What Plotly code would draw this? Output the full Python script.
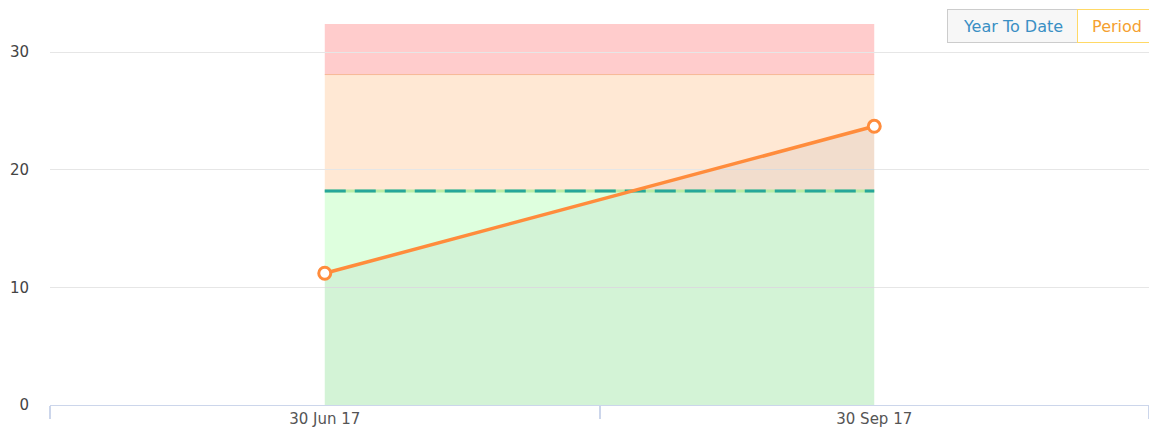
import plotly.graph_objects as go

categories = ["30 Jun 17", "30 Sep 17"]
values = [11.2, 23.7]
target = 18.2
band_edges = [0, 18.2, 28.1, 32.4]
band_colors = ["rgba(0,255,0,0.13)", "rgba(255,140,40,0.2)", "rgba(255,0,0,0.2)"]
y_ticks = [0, 10, 20, 30]
buttons = ["Year To Date", "Period"]

xs = list(range(len(categories)))
x_lo, x_hi = xs[0], xs[-1]

fig = go.Figure()

shapes = []
for i, col in enumerate(band_colors):
    shapes.append(dict(type="rect", xref="x", yref="y", x0=x_lo, x1=x_hi,
                       y0=band_edges[i], y1=band_edges[i + 1],
                       fillcolor=col, line=dict(width=0), layer="below"))
shapes.append(dict(type="line", xref="x", yref="y", x0=x_lo, x1=x_hi,
                   y0=band_edges[2], y1=band_edges[2],
                   line=dict(color="rgba(240,160,110,0.6)", width=1), layer="below"))

# area under line
fig.add_trace(go.Scatter(x=xs, y=values, mode="none", fill="tozeroy",
                         fillcolor="rgba(70,90,110,0.07)", hoverinfo="skip",
                         showlegend=False))
# target line: light underline + teal dashes
fig.add_trace(go.Scatter(x=[x_lo, x_hi], y=[target, target], mode="lines",
                         line=dict(color="rgba(180,235,160,0.9)", width=3),
                         hoverinfo="skip", showlegend=False))
fig.add_trace(go.Scatter(x=[x_lo, x_hi], y=[target, target], mode="lines",
                         line=dict(color="#26a69a", width=3, dash="21px,9px"),
                         showlegend=False))
# actual series
fig.add_trace(go.Scatter(x=xs, y=values, mode="lines+markers",
                         line=dict(color="#ff8c3c", width=3.5),
                         marker=dict(symbol="circle", size=12, color="white",
                                     line=dict(color="#ff8c3c", width=3)),
                         showlegend=False))

fig.update_layout(
    width=1149, height=434,
    margin=dict(l=50, r=0, t=24, b=29),
    paper_bgcolor="white", plot_bgcolor="white",
    font=dict(family="DejaVu Sans", size=15, color="#555555"),
    shapes=shapes,
    xaxis=dict(range=[x_lo - 0.5, x_hi + 0.5], tickmode="array", tickvals=xs,
               ticktext=categories, ticks="", showgrid=False, zeroline=False,
               showline=True, linecolor="#ccd6eb", linewidth=1,
               tickfont=dict(size=15, color="#555555"),
               minor=dict(tickmode="array",
                          tickvals=[x_lo - 0.5 + k for k in range(len(categories) + 1)],
                          ticks="outside", ticklen=13, tickcolor="#ccd6eb",
                          tickwidth=2, showgrid=False)),
    yaxis=dict(range=[band_edges[0], band_edges[-1]], tickmode="array",
               tickvals=y_ticks, showgrid=True, gridcolor="#e6e6e6",
               zeroline=False, showline=False, ticks="",
               ticklabelstandoff=20,
               tickfont=dict(size=15, color="#444444")),
)

fig.add_annotation(xref="paper", yref="paper", x=(947 - 50) / 1099, y=(405 - 9) / 381,
                   xanchor="left", yanchor="top", text=buttons[0], showarrow=False,
                   width=128, height=30, bgcolor="#f7f7f7", bordercolor="#cccccc",
                   borderwidth=1, font=dict(size=16, color="#3a8fc4"))
fig.add_annotation(xref="paper", yref="paper", x=(1077 - 50) / 1099, y=(405 - 9) / 381,
                   xanchor="left", yanchor="top", text=buttons[1], showarrow=False,
                   width=76, height=30, bgcolor="white", bordercolor="#ffd966",
                   borderwidth=1, font=dict(size=16, color="#f5a030"))

post = ("document.body.style.margin='0';"
        "document.body.style.overflow='hidden';"
        "var gd=document.getElementById('{plot_id}');"
        "Plotly.relayout(gd,{width:1149,height:434});")
fig.write_html("out.html", post_script=post,
               config={"displayModeBar": False})
